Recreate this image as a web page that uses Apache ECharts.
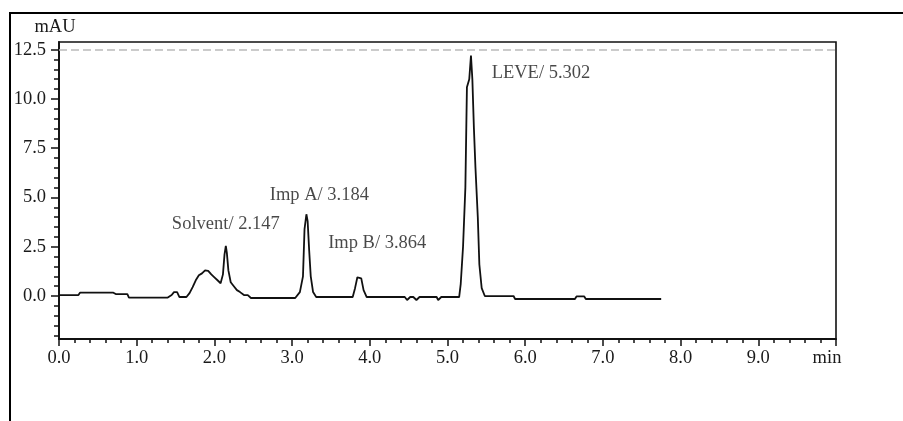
<!DOCTYPE html>
<html>
<head>
<meta charset="utf-8">
<script src="https://cdn.jsdelivr.net/npm/echarts@6/dist/echarts.min.js"></script>
<style>
  html, body { margin: 0; padding: 0; background: #fff; }
  #chart { width: 903px; height: 421px; }
</style>
</head>
<body>
<div id="chart"></div>
<script>
// Chromatogram trace: retention time (min) and detector response (mAU)
const traceTime = [
  0.00, 0.25, 0.27, 0.70, 0.73, 0.88, 0.90, 1.40, 1.45, 1.48, 1.52, 1.55, 1.64,
  1.68, 1.72, 1.76, 1.80, 1.84, 1.88, 1.92, 1.96, 2.00, 2.04, 2.08, 2.11, 2.13,
  2.147, 2.16, 2.18, 2.21, 2.25, 2.29, 2.33, 2.38, 2.43, 2.47, 2.52, 3.04, 3.10,
  3.14, 3.16, 3.184, 3.20, 3.22, 3.24, 3.27, 3.31, 3.50, 3.78, 3.81, 3.84, 3.864,
  3.89, 3.92, 3.96, 4.45, 4.48, 4.52, 4.56, 4.60, 4.64, 4.86, 4.88, 4.92, 5.15,
  5.17, 5.20, 5.23, 5.25, 5.28, 5.302, 5.32, 5.34, 5.36, 5.39, 5.41, 5.44, 5.48,
  5.85, 5.87, 6.64, 6.66, 6.76, 6.78, 7.75
];
const traceSignal = [
  0.05, 0.05, 0.17, 0.17, 0.10, 0.10, -0.08, -0.08, 0.05, 0.20, 0.20, -0.05, -0.05,
  0.15, 0.45, 0.80, 1.05, 1.15, 1.30, 1.28, 1.10, 0.95, 0.80, 0.65, 1.10, 2.10,
  2.55, 2.20, 1.30, 0.70, 0.50, 0.30, 0.20, 0.05, 0.05, -0.10, -0.10, -0.10, 0.20,
  1.00, 3.40, 4.15, 3.80, 2.30, 1.00, 0.20, -0.05, -0.05, -0.05, 0.40, 0.95, 1.05,
  0.90, 0.30, -0.05, -0.05, -0.20, -0.05, -0.05, -0.20, -0.05, -0.05, -0.20, -0.05, -0.05,
  0.60, 2.50, 5.50, 10.60, 11.00, 12.20, 11.00, 8.50, 6.50, 4.00, 1.60, 0.40, 0.00,
  0.00, -0.15, -0.15, -0.02, -0.02, -0.15, -0.15
];

// Identified peaks
const peakNames = ['Solvent', 'Imp A', 'Imp B', 'LEVE'];
const peakTimes = [2.147, 3.184, 3.864, 5.302];
const peakHeights = [2.55, 4.15, 1.05, 12.20];

// Axis ticks
const xMin = 0, xMax = 10, xStep = 1;
const yMin = -2.18, yMax = 12.89;
const yMajorTicks = [0, 2.5, 5, 7.5, 10, 12.5];
const yMinorTicks = [-2, -1.5, -1, -0.5, 0, 0.5, 1, 1.5, 2, 2.5, 3, 3.5, 4, 4.5, 5,
  5.5, 6, 6.5, 7, 7.5, 8, 8.5, 9, 9.5, 10, 10.5, 11, 11.5, 12, 12.5];
const yUnit = 'mAU';
const xUnit = 'min';
const referenceLevel = 12.5;

// Label placement around each peak apex (px)
const labelOffsets = {
  'Solvent': [0, -22],
  'Imp A': [13, -19],
  'Imp B': [18, -32],
  'LEVE': [70, 18]
};

const FONT = '"Liberation Serif", "DejaVu Serif", serif';
const INK = '#111';
const TEXT = '#1a1a1a';
const FS = 18.5;

const chart = echarts.init(document.getElementById('chart'), null, { renderer: 'canvas' });

const tracePoints = traceTime.map((t, i) => [t, traceSignal[i]]);
const peakPoints = peakNames.map((n, i) => ({
  name: n,
  value: [peakTimes[i], peakHeights[i]],
  label: { offset: labelOffsets[n] }
}));

chart.setOption({
  backgroundColor: '#fff',
  animation: false,
  grid: {
    left: 59, top: 42, right: 67, bottom: 82,
    show: true, borderColor: INK, borderWidth: 1.6, backgroundColor: 'transparent'
  },
  xAxis: {
    type: 'value',
    min: xMin, max: xMax, interval: xStep,
    axisLine: { show: true, onZero: false, lineStyle: { color: INK, width: 1.8 } },
    axisTick: { show: true, inside: false, length: 7, lineStyle: { color: INK, width: 1.5 } },
    minorTick: { show: true, splitNumber: 5, length: 4, lineStyle: { color: INK, width: 1.5 } },
    splitLine: { show: false },
    axisLabel: {
      margin: 10,
      fontFamily: FONT, fontSize: FS, color: TEXT,
      formatter: v => (Math.abs(v - xMax) < 1e-9 ? '{u|' + xUnit + '}' : v.toFixed(1)),
      rich: { u: { fontFamily: FONT, fontSize: FS, color: TEXT, padding: [0, 18, 0, 0] } }
    }
  },
  yAxis: [
    {
      type: 'value',
      min: yMin, max: yMax,
      name: yUnit,
      nameLocation: 'end',
      nameGap: 5,
      nameTextStyle: { fontFamily: FONT, fontSize: FS, color: TEXT, align: 'center', padding: [0, 8, 0, 0] },
      axisLine: { show: true, onZero: false, lineStyle: { color: INK, width: 1.8 } },
      axisTick: { show: true, length: 8, customValues: yMajorTicks, lineStyle: { color: INK, width: 1.5 } },
      splitLine: { show: false },
      axisLabel: {
        margin: 13,
        customValues: yMajorTicks,
        fontFamily: FONT, fontSize: FS, color: TEXT,
        formatter: v => v.toFixed(1)
      }
    },
    {
      type: 'value',
      min: yMin, max: yMax,
      position: 'left',
      axisLine: { show: false },
      axisTick: { show: true, length: 5, customValues: yMinorTicks, lineStyle: { color: INK, width: 1.5 } },
      axisLabel: { show: false },
      splitLine: { show: false }
    }
  ],
  series: [
    {
      name: 'signal',
      type: 'line',
      data: tracePoints,
      showSymbol: false,
      symbol: 'none',
      lineStyle: { color: INK, width: 1.8 },
      markLine: {
        silent: true,
        symbol: 'none',
        label: { show: false },
        lineStyle: { color: '#bbb', type: [8, 4], width: 1.5 },
        data: [{ yAxis: referenceLevel }]
      },
      z: 3
    },
    {
      name: 'peaks',
      type: 'scatter',
      data: peakPoints,
      symbolSize: 0,
      silent: true,
      label: {
        show: true,
        position: 'inside',
        fontFamily: FONT, fontSize: FS, color: TEXT,
        formatter: p => p.name + '/ ' + p.value[0].toFixed(3)
      },
      z: 4
    }
  ],
  graphic: [
    {
      type: 'polyline',
      shape: { points: [[10, 421], [10, 13], [903, 13]] },
      style: { stroke: '#000', lineWidth: 2, fill: null },
      silent: true
    }
  ]
});
</script>
</body>
</html>
